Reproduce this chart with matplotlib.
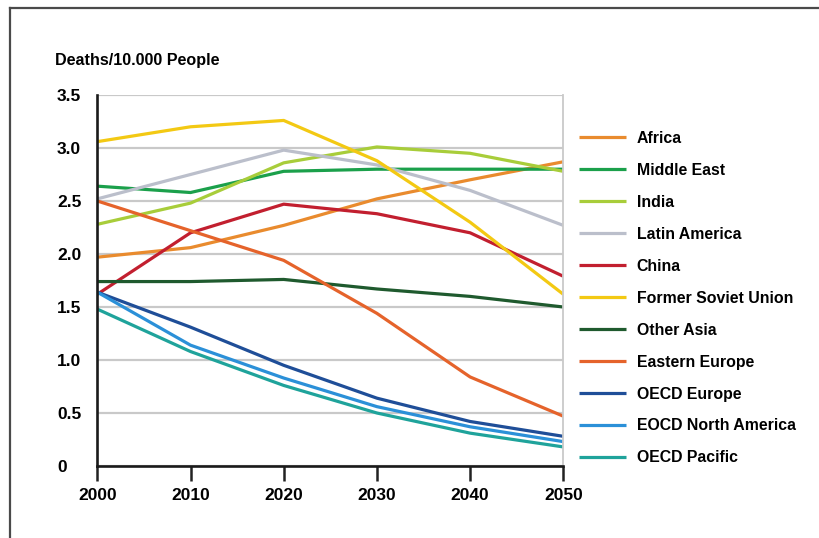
import matplotlib
matplotlib.use("Agg")
import matplotlib.pyplot as plt
from matplotlib.lines import Line2D

plt.rcParams['font.family'] = ['Liberation Sans', 'DejaVu Sans']
plt.rcParams['font.weight'] = 'bold'

years = [2000, 2010, 2020, 2030, 2040, 2050]

regions = [
    "Africa", "Middle East", "India", "Latin America", "China",
    "Former Soviet Union", "Other Asia", "Eastern Europe", "OECD Europe",
    "EOCD North America", "OECD Pacific",
]

africa = [1.97, 2.06, 2.27, 2.52, 2.70, 2.87]
middle_east = [2.64, 2.58, 2.78, 2.80, 2.80, 2.80]
india = [2.28, 2.48, 2.86, 3.01, 2.95, 2.78]
latin_america = [2.52, 2.75, 2.98, 2.84, 2.60, 2.27]
china = [1.62, 2.20, 2.47, 2.38, 2.20, 1.79]
former_soviet = [3.06, 3.20, 3.26, 2.88, 2.30, 1.62]
other_asia = [1.74, 1.74, 1.76, 1.67, 1.60, 1.50]
eastern_europe = [2.50, 2.22, 1.94, 1.44, 0.84, 0.47]
oecd_europe = [1.64, 1.31, 0.95, 0.64, 0.42, 0.28]
oecd_north_america = [1.64, 1.14, 0.83, 0.56, 0.37, 0.23]
oecd_pacific = [1.48, 1.08, 0.76, 0.50, 0.31, 0.18]

series = [africa, middle_east, india, latin_america, china, former_soviet,
          other_asia, eastern_europe, oecd_europe, oecd_north_america, oecd_pacific]

colors = ["#E98B2E", "#1BA04B", "#A8CD3A", "#BBBFCB", "#C21F2F", "#F3C913",
          "#1F5A2E", "#E5632B", "#1F4E98", "#2B90D8", "#1FA39B"]

yticks = [0, 0.5, 1.0, 1.5, 2.0, 2.5, 3.0, 3.5]
ytick_labels = ["0", "0.5", "1.0", "1.5", "2.0", "2.5", "3.0", "3.5"]

fig = plt.figure(figsize=(8.2, 5.38), dpi=100)
ax = fig.add_axes([97.3 / 820, 72 / 538, 466 / 820, 371 / 538])

for name, vals, c in zip(regions, series, colors):
    ax.plot(years, vals, color=c, lw=2.3, label=name, solid_capstyle="butt")

ax.set_xlim(2000, 2050)
ax.set_ylim(0, 3.5)
ax.set_xticks(years)
ax.set_yticks(yticks)
ax.set_yticklabels(ytick_labels, ha="left")
ax.yaxis.grid(True, color="#c9c9c9", lw=1.6)
ax.set_axisbelow(True)

ax.tick_params(axis="y", length=0, pad=29, labelsize=12.5)
ax.tick_params(axis="x", length=11, width=1.8, direction="out", pad=5,
               labelsize=12.5, color="#222222")

for side in ["left", "bottom"]:
    ax.spines[side].set_color("#1a1a1a")
    ax.spines[side].set_linewidth(1.9)
ax.spines["right"].set_color("#c9c9c9")
ax.spines["right"].set_linewidth(1.3)
ax.spines["top"].set_visible(False)

fig.text(55 / 820, 1 - 61 / 538, "Deaths/10.000 People", fontsize=11.6,
         ha="left", va="center")

ax.legend(loc="upper left", bbox_to_anchor=(579 / 820, 1 - 131 / 538),
          bbox_transform=fig.transFigure, frameon=False, fontsize=11.4,
          handlelength=2.95, handletextpad=0.7, labelspacing=1.07,
          borderaxespad=0, borderpad=0)

# outer frame: top and left edges only
fig.add_artist(Line2D([10 / 820, 10 / 820], [0, 1 - 8 / 538],
                      color="#4a4a4a", lw=1.6, transform=fig.transFigure))
fig.add_artist(Line2D([10 / 820, 1], [1 - 8 / 538, 1 - 8 / 538],
                      color="#4a4a4a", lw=1.6, transform=fig.transFigure))

fig.savefig("out.png", dpi=100)
